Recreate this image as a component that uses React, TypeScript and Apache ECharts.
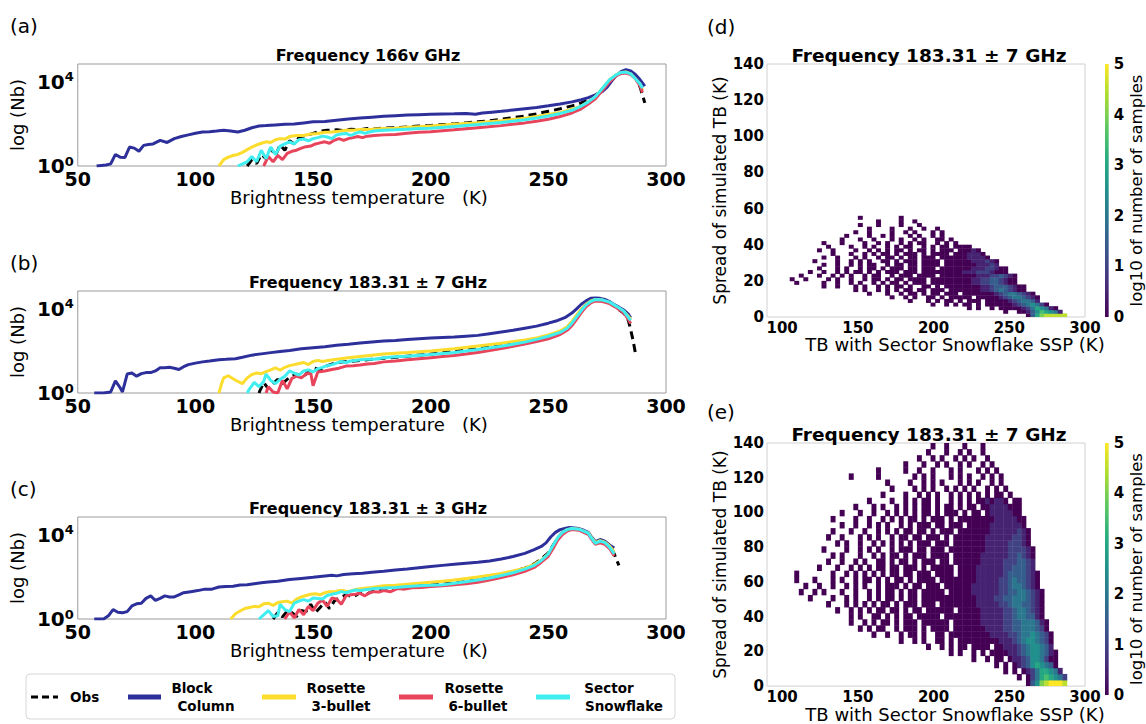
import React, { useEffect, useRef } from "react";
import * as echarts from "echarts";

const FONT = "'DejaVu Sans', 'Noto Sans', sans-serif";

// ---------- series names & colours ----------
const seriesNames = ["Obs", "Block Column", "Rosette 3-bullet", "Rosette 6-bullet", "Sector Snowflake"];
const seriesColors = ["#000000", "#2d2f9b", "#fcdc2c", "#e8455d", "#40eef0"];
const panelTitles = ["Frequency 166v GHz", "Frequency 183.31 \u00b1 7 GHz", "Frequency 183.31 \u00b1 3 GHz"];
const xTicksLeft = [50, 100, 150, 200, 250, 300];
const yTicksLog = [0, 4];

// ---------- panel (a): [TB (K), log10(Nb)] ----------
const aObs: [number, number][] = [[122,0],[124,0.3],[126,0.12],[128,0.55],[130,0.35],[132,0.85],[134,0.5],[136,1.0],[138,0.75],[140,1.2],[142,1.05],[144,1.35],[147,1.45],[150,1.55],[153,1.65],[156,1.7],[160,1.72],[163,1.68],[166,1.75],[170,1.72],[173,1.78],[176,1.76],[180,1.8],[185,1.82],[190,1.86],[195,1.9],[200,1.93],[205,1.97],[210,2.0],[215,2.05],[220,2.1],[225,2.15],[230,2.22],[235,2.3],[240,2.38],[245,2.48],[250,2.6],[255,2.72],[260,2.86],[264,3.0],[267,3.15],[270,3.35],[273,3.65],[276,4.05],[279,4.35],[281,4.45],[283,4.48],[285,4.4],[287,4.2],[289,3.75],[291,3.0]];
const aBlock: [number, number][] = [[58,0],[62,0.05],[64,0.1],[66,0.55],[68,0.42],[70,0.4],[72,0.9],[74,0.85],[76,0.7],[78,0.98],[80,1.02],[82,1.05],[85,1.22],[88,1.12],[91,1.3],[94,1.4],[97,1.48],[100,1.56],[103,1.62],[106,1.63],[109,1.66],[112,1.7],[115,1.66],[118,1.62],[121,1.7],[124,1.82],[127,1.9],[130,1.92],[134,1.95],[138,1.98],[142,2.0],[146,2.05],[150,2.1],[155,2.12],[160,2.18],[165,2.24],[170,2.28],[175,2.32],[180,2.36],[185,2.39],[190,2.42],[195,2.44],[200,2.46],[205,2.47],[210,2.48],[215,2.5],[219,2.46],[222,2.52],[226,2.56],[230,2.6],[235,2.66],[240,2.72],[245,2.78],[250,2.86],[255,2.95],[260,3.05],[264,3.15],[267,3.25],[270,3.38],[273,3.55],[275,3.75],[277,4.05],[279,4.32],[281,4.5],[283,4.58],[285,4.52],[287,4.35],[289,4.1],[291,3.8]];
const aRos3: [number, number][] = [[110,0],[112,0.3],[114,0.42],[116,0.5],[118,0.55],[120,0.65],[122,0.78],[124,0.9],[126,1.0],[128,1.08],[130,1.15],[132,1.12],[134,1.25],[136,1.3],[138,1.28],[140,1.4],[143,1.45],[146,1.45],[149,1.52],[152,1.55],[155,1.6],[158,1.62],[161,1.65],[164,1.7],[167,1.7],[170,1.73],[175,1.75],[180,1.78],[185,1.8],[190,1.84],[195,1.87],[200,1.9],[210,1.98],[220,2.06],[230,2.15],[240,2.27],[245,2.35],[250,2.45],[255,2.55],[260,2.7],[264,2.85],[267,3.05],[270,3.3],[273,3.7],[276,4.1],[279,4.35],[281,4.45],[283,4.47],[285,4.38],[287,4.15],[289,3.9],[290,3.6]];
const aRos6: [number, number][] = [[129,0],[131,0.45],[133,0.2],[135,0.5],[137,0.3],[139,0.6],[141,0.7],[143,0.75],[145,0.85],[147,0.92],[149,0.95],[151,1.05],[153,1.1],[155,1.15],[157,1.08],[159,1.22],[161,1.3],[163,1.22],[165,1.3],[167,1.35],[169,1.4],[171,1.35],[173,1.42],[176,1.45],[180,1.48],[185,1.5],[190,1.56],[195,1.6],[200,1.63],[210,1.72],[220,1.82],[230,1.92],[240,2.05],[245,2.13],[250,2.22],[255,2.35],[260,2.52],[264,2.72],[267,2.95],[270,3.2],[273,3.6],[276,4.0],[279,4.3],[281,4.4],[283,4.42],[285,4.35],[287,4.15],[289,3.8],[290,3.5]];
const aSector: [number, number][] = [[118,0],[120,0.1],[122,0.2],[124,0.45],[126,0.2],[128,0.75],[130,0.35],[132,0.9],[134,0.55],[136,0.95],[138,1.05],[140,1.15],[142,1.05],[144,1.25],[146,1.28],[148,1.2],[150,1.3],[152,1.35],[154,1.42],[156,1.38],[158,1.3],[160,1.48],[162,1.52],[164,1.55],[166,1.45],[168,1.55],[170,1.62],[172,1.55],[174,1.62],[176,1.66],[180,1.7],[185,1.72],[190,1.75],[195,1.78],[200,1.8],[210,1.88],[220,1.97],[230,2.07],[240,2.2],[245,2.28],[250,2.38],[255,2.5],[260,2.65],[264,2.85],[267,3.05],[270,3.3],[273,3.7],[276,4.1],[279,4.35],[281,4.45],[283,4.46],[285,4.38],[287,4.15],[289,3.9],[290,3.7]];

// ---------- panel (b) ----------
const bObs: [number, number][] = [[127,0],[129,0.5],[131,0.2],[133,0.45],[135,0.65],[137,0.45],[140,0.75],[143,0.9],[146,0.8],[148,1.0],[150,1.2],[153,1.1],[156,1.3],[160,1.45],[165,1.5],[170,1.55],[175,1.6],[180,1.65],[190,1.75],[200,1.85],[210,1.98],[220,2.12],[230,2.27],[240,2.45],[245,2.58],[250,2.72],[255,2.9],[258,3.1],[260,3.35],[262,3.65],[264,3.95],[266,4.2],[268,4.38],[270,4.45],[273,4.42],[276,4.3],[279,4.05],[282,3.8],[284,3.45],[285,3.0],[286,2.5],[287,1.9]];
const bBlock: [number, number][] = [[57,0],[61,0],[64,0.05],[66,0.58],[68,0.25],[69,0.05],[71,0.9],[73,0.95],[75,0.8],[77,0.92],[79,0.97],[81,0.97],[83,1.05],[85,1.2],[87,1.2],[89,1.22],[91,1.18],[93,1.12],[95,1.25],[97,1.35],[100,1.42],[103,1.48],[106,1.52],[110,1.58],[113,1.6],[117,1.63],[120,1.7],[124,1.8],[128,1.86],[132,1.92],[136,1.97],[140,2.02],[145,2.1],[150,2.15],[155,2.2],[160,2.27],[165,2.32],[170,2.38],[175,2.43],[180,2.47],[185,2.5],[190,2.54],[195,2.58],[200,2.61],[205,2.64],[210,2.66],[215,2.7],[220,2.74],[225,2.82],[230,2.9],[235,2.98],[240,3.08],[245,3.18],[250,3.32],[254,3.45],[257,3.58],[260,3.8],[262,4.0],[264,4.22],[266,4.38],[268,4.5],[270,4.52],[272,4.5],[274,4.45],[276,4.35],[278,4.2],[280,4.08],[282,3.95],[284,3.75],[285,3.58]];
const bRos3: [number, number][] = [[110,0],[111,0.4],[112,0.72],[114,0.82],[116,0.68],[118,0.55],[120,0.45],[122,0.72],[124,0.88],[126,0.95],[128,0.92],[130,1.02],[132,1.1],[134,1.2],[136,1.08],[138,1.22],[140,1.3],[142,1.35],[144,1.4],[146,1.45],[148,1.35],[150,1.5],[152,1.55],[154,1.5],[157,1.56],[160,1.6],[165,1.68],[170,1.74],[175,1.8],[180,1.85],[190,1.92],[200,2.0],[210,2.1],[220,2.23],[230,2.37],[240,2.52],[245,2.62],[250,2.76],[255,2.95],[258,3.15],[260,3.4],[262,3.7],[264,3.98],[266,4.22],[268,4.38],[270,4.45],[273,4.42],[276,4.3],[279,4.1],[282,3.88],[284,3.65],[285,3.5]];
const bRos6: [number, number][] = [[130,0],[131,0.3],[133,0.05],[135,0],[137,0.6],[139,0.2],[141,0.7],[143,0.8],[145,0.72],[147,0.9],[149,0.95],[150,0.35],[152,1.0],[155,1.05],[158,1.12],[161,1.18],[164,1.28],[167,1.3],[170,1.33],[173,1.38],[176,1.4],[180,1.48],[185,1.52],[190,1.58],[195,1.63],[200,1.68],[205,1.73],[210,1.78],[215,1.85],[220,1.93],[225,2.02],[230,2.12],[235,2.22],[240,2.33],[245,2.45],[250,2.58],[255,2.78],[258,2.98],[260,3.2],[262,3.5],[264,3.82],[266,4.1],[268,4.28],[270,4.38],[273,4.35],[276,4.25],[279,4.05],[282,3.82],[284,3.5],[285,3.3]];
const bSector: [number, number][] = [[122,0],[123,0.2],[125,0.5],[127,0.3],[129,0.55],[130,0.9],[132,0.6],[134,0.45],[136,0.65],[138,0.8],[140,1.05],[142,0.95],[144,0.85],[146,1.05],[148,1.1],[150,1.0],[152,1.15],[154,1.22],[156,1.3],[158,1.35],[160,1.42],[162,1.5],[164,1.45],[166,1.52],[168,1.55],[170,1.58],[173,1.6],[176,1.6],[180,1.68],[185,1.72],[190,1.75],[200,1.83],[210,1.93],[220,2.07],[230,2.22],[240,2.42],[245,2.55],[250,2.7],[255,2.88],[258,3.08],[260,3.32],[262,3.62],[264,3.92],[266,4.18],[268,4.35],[270,4.45],[273,4.42],[276,4.32],[279,4.12],[282,3.9],[284,3.6],[285,3.45]];

// ---------- panel (c) ----------
const cObs: [number, number][] = [[133,0],[135,0.3],[137,0.1],[139,0.38],[141,0.3],[143,0.12],[145,0.4],[147,0.35],[149,0.7],[151,0.3],[153,0.55],[155,0.8],[157,0.5],[159,0.85],[161,1.0],[164,1.15],[167,1.05],[170,1.25],[173,1.2],[176,1.35],[180,1.4],[185,1.45],[190,1.55],[195,1.58],[200,1.62],[205,1.66],[210,1.72],[215,1.78],[220,1.86],[225,1.97],[230,2.1],[235,2.25],[240,2.42],[244,2.62],[247,2.85],[250,3.15],[252,3.5],[254,3.85],[256,4.1],[258,4.22],[260,4.28],[263,4.25],[265,4.15],[267,4.05],[268,3.9],[270,3.6],[272,3.7],[274,3.62],[276,3.45],[278,3.1],[279,2.8],[280,2.55]];
const cBlock: [number, number][] = [[57,0],[61,0],[63,0.15],[65,0.45],[67,0.32],[69,0.3],[71,0.35],[73,0.62],[75,0.72],[77,0.75],[79,0.98],[81,1.1],[83,0.88],[85,0.98],[87,1.1],[89,1.05],[91,1.05],[93,1.15],[95,1.25],[98,1.3],[101,1.35],[104,1.42],[107,1.42],[110,1.52],[113,1.55],[116,1.56],[119,1.62],[122,1.63],[125,1.68],[128,1.72],[131,1.76],[135,1.8],[140,1.88],[145,1.93],[150,1.98],[155,2.05],[158,2.08],[160,2.05],[163,2.12],[167,2.15],[171,2.18],[175,2.22],[180,2.27],[185,2.33],[190,2.38],[195,2.44],[200,2.5],[205,2.55],[210,2.6],[215,2.65],[220,2.7],[225,2.76],[230,2.85],[235,2.97],[240,3.12],[244,3.3],[247,3.45],[249,3.62],[251,3.9],[253,4.12],[255,4.25],[257,4.3],[259,4.35],[261,4.33],[263,4.3],[265,4.22],[267,4.12],[268,3.95],[270,3.68],[272,3.78],[274,3.7],[276,3.52],[278,3.38]];
const cRos3: [number, number][] = [[115,0],[117,0.25],[119,0.38],[121,0.5],[123,0.55],[125,0.6],[127,0.58],[129,0.72],[131,0.75],[133,0.65],[135,0.78],[137,0.82],[139,0.85],[141,0.75],[143,0.95],[145,1.05],[147,1.12],[149,1.18],[151,1.2],[153,1.15],[155,1.25],[157,1.3],[159,1.3],[161,1.35],[163,1.35],[165,1.3],[168,1.4],[171,1.45],[175,1.5],[180,1.58],[185,1.6],[190,1.65],[195,1.7],[200,1.75],[205,1.8],[210,1.85],[215,1.93],[220,2.0],[225,2.08],[230,2.17],[235,2.28],[240,2.42],[244,2.6],[247,2.8],[250,3.1],[252,3.45],[254,3.85],[256,4.1],[258,4.25],[260,4.3],[263,4.27],[265,4.18],[267,4.08],[268,3.92],[270,3.63],[272,3.72],[274,3.65],[276,3.47],[278,3.2]];
const cRos6: [number, number][] = [[138,0],[140,0.35],[142,0.05],[144,0.45],[146,0.2],[148,0.6],[150,0.4],[152,0.75],[154,0.9],[156,0.6],[158,1.0],[160,0.95],[162,0.7],[164,1.1],[166,1.15],[168,1.18],[170,1.22],[172,1.1],[174,1.25],[176,1.3],[178,1.28],[180,1.35],[183,1.3],[186,1.45],[189,1.42],[192,1.48],[196,1.5],[200,1.55],[205,1.58],[210,1.63],[215,1.68],[220,1.75],[225,1.85],[230,1.97],[235,2.1],[240,2.27],[244,2.45],[247,2.7],[250,2.98],[252,3.35],[254,3.75],[256,4.02],[258,4.18],[260,4.25],[263,4.22],[265,4.12],[267,4.02],[268,3.85],[270,3.55],[272,3.62],[274,3.55],[276,3.35],[278,3.0]];
const cSector: [number, number][] = [[127,0],[129,0.2],[131,0.4],[133,0.12],[135,0.15],[136,0.7],[138,0.45],[140,0.35],[142,0.75],[144,0.85],[146,0.92],[148,0.85],[150,1.0],[152,0.98],[154,0.95],[156,1.12],[158,1.18],[160,1.22],[162,1.3],[164,1.25],[166,1.32],[168,1.38],[170,1.35],[173,1.4],[176,1.45],[180,1.47],[185,1.5],[190,1.55],[195,1.58],[200,1.6],[205,1.63],[210,1.7],[215,1.77],[220,1.85],[225,1.95],[230,2.07],[235,2.2],[240,2.37],[244,2.55],[247,2.78],[250,3.1],[252,3.5],[254,3.88],[256,4.12],[258,4.25],[260,4.3],[263,4.27],[265,4.18],[267,4.08],[268,3.9],[270,3.6],[272,3.7],[274,3.63],[276,3.42],[278,3.1]];

const panelData = [
  [aObs, aBlock, aRos3, aRos6, aSector],
  [bObs, bBlock, bRos3, bRos6, bSector],
  [cObs, cBlock, cRos3, cRos6, cSector],
];

// ---------- 2-D histograms (log10 of number of samples) ----------
// each row: [row index, first column, cells]; '.' = empty, hex digit h = value h*0.5
const heatX0 = 90;
const heatDX = 3;
const heatDDY = 2;   // panel (d) row height (K)
const heatEDY = 3.5; // panel (e) row height (K)
const histD: [number, number, string][] = [
  [0, 57, "036899999"],
  [1, 52, "0..0013576541"],
  [2, 44, "0.0..0.0000012465410"],
  [3, 36, "0..0.0.00.0.00000012345420"],
  [4, 31, "0...0.0.00.0.000.000001234431"],
  [5, 27, "0..0.0..00.0.00000.00000123443210"],
  [6, 22, "0...0..0.00.0.00.000.0000000123443210"],
  [7, 19, "0.0..0.0.0.00.00.000.00000001123432100"],
  [8, 12, "0..0...0.0..0.0.00.0..00.0.000000001123332100"],
  [9, 6, "0.....0..0..0.0..0.0.00.0.000.0000000001122332100"],
  [10, 5, "0..0....0.0..0..0.00.0.00.0000.0000000001122332100"],
  [11, 7, "0...0..0.0.0..0.00..0.000.0000.00000000111223210"],
  [12, 9, "0..0..0.0.00.0.0.000.000.0000000001112221000"],
  [13, 11, "0...0.0..0.00.0.000.00.000.000000011122100"],
  [14, 12, "0..0..0.0.00..0.00.00.0000.000000011121"],
  [15, 10, "0....0..0.0.0..00.0.000.0000.000000111210"],
  [16, 12, "0..0...0.0..0.00.0.00.000.00000011110"],
  [17, 14, "0...0..0.0.00.0.000.0.0000.0001110"],
  [18, 11, "0..0....0..0.0.0.00.0.00.0.000.00010"],
  [19, 13, "0....0..0.0..0.0.00..0.0.00.0000"],
  [20, 12, "0...0....0..0.0..0.0.00..0.0.0"],
  [21, 16, "0...0..0...0.0..0.0..00.0"],
  [22, 17, "0....0..0.0...0.0..0.0"],
  [23, 19, "0..0....0..0.0...0.0"],
  [24, 22, "0....0...0..0..0"],
  [25, 20, "0...0....0...0"],
  [26, 22, "..0....0..0"],
  [27, 20, "0........0"],
];
const histE: [number, number, string][] = [
  [0, 57, "03589AAA9"],
  [1, 55, "0.024676542"],
  [2, 52, "0.0.012466541"],
  [3, 49, ".0.0.0123565430"],
  [4, 45, "0..0.00.01123554200"],
  [5, 40, "0.0..0.0.000011234554310"],
  [6, 35, "0..0.0.00.0000.0011123455431"],
  [7, 29, "0..0.0..00.0.000000000111234554320"],
  [8, 23, "0..0..0.00.0..00.00000000011112234454320"],
  [9, 20, "0.0.00..0.000.0.0000.000000011112233444320"],
  [10, 18, "0..0.0.00.0.000.000000.000000111112233444310"],
  [11, 17, ".0.0..00.0.0.00.00000.0000000011111223443310"],
  [12, 15, "0..0.0.0.00.00.0.00.000000.0000011111223443210"],
  [13, 13, "0...0.0.0.0.00.0.000.000.00000000111112234433210"],
  [14, 9, "0....0..0.0..0.0.00.0.00.000000000000111122334443210"],
  [15, 7, "0..0.0...0..0..0.0.00.0.00.00000.000001111112233443210"],
  [16, 7, ".0..0..0..0.0.0..0.000.0.00.000.000000111111223443210"],
  [17, 6, "0...0...0.0..0.00.0.0.00.0.0000.0000000011111223433210"],
  [18, 6, "0.......0..0.0.0.0.0.00.00.000.0000.000011111123333210"],
  [19, 11, "0...0..0.0.0.00.00.000.0.00000.00001111112233321"],
  [20, 13, "0..0..0.0..00.0.00.0.000.00.000000111112223321"],
  [21, 14, "0.0...0..0.0.00.0.000.0000.000000111111223210"],
  [22, 12, "0....0..0.0.0..0.000.00.000.0000000011111222210"],
  [23, 15, "0.0..0..0.0.0.0.0.000.000.00000001111122210"],
  [24, 13, "0..0...0.0.0..0.00.00.000.0.00000001111112210"],
  [25, 13, ".0...0..0..0.0.0.00.00.0.000.0000000111111210"],
  [26, 16, "0..0..0.0.0..0.0.000.00.000.0000011111110"],
  [27, 14, "0....0..0..0.0.0.00.0.000.0.000000001111100"],
  [28, 16, "0...0..0..0.0.0.0.00.0.000.0.00.01111100"],
  [29, 19, "0...0.0..0.0.0.00.0.00.0.00.001111000"],
  [30, 22, "0....0..0.0.00.0..0.0.0.0010110.00"],
  [31, 25, "0....0..0.0.0..0.0.0.0.0.00.0"],
  [32, 27, "0....0.0.0..0.0.0.0..0.0.0"],
  [33, 26, "0....0..0.0.0...0.0.0..0.0"],
  [34, 18, "0.....0.......0.0.0...0.0.0..0.0.0"],
  [35, 24, "0.....0..0..0...0.0...0.0.0"],
  [36, 30, "0...0..0.0..0.0..0.0"],
  [37, 33, "0..0.0..0.0.0..0."],
  [38, 35, "0...0..0.0..0"],
  [39, 36, "0..0...0...0"],
];
const heatXTicks = [100, 150, 200, 250, 300];
const viridis = ["#440154", "#472c7a", "#3b518b", "#2c718e", "#21908d", "#27ad81", "#5cc863", "#aadc32", "#fde725"];

function parseHist(rows: [number, number, string][], dy: number): number[][] {
  const out: number[][] = [];
  for (const [r, c0, pat] of rows) {
    for (let i = 0; i < pat.length; i++) {
      const ch = pat[i];
      if (ch === ".") continue;
      out.push([heatX0 + (c0 + i) * heatDX, r * dy, parseInt(ch, 16) * 0.5]);
    }
  }
  return out;
}

function buildOption(): any {
  const leftTops = [64, 291, 517];
  const grids: any[] = [];
  const xAxes: any[] = [];
  const yAxes: any[] = [];
  const series: any[] = [];
  const graphics: any[] = [];

  const txt = (x: number, y: number, text: string, size: number, bold: boolean, align = "center", extra: any = {}) => ({
    type: "text",
    x,
    y,
    silent: true,
    style: {
      text,
      fontSize: size,
      fontWeight: bold ? "bold" : "normal",
      fontFamily: FONT,
      fill: "#000",
      align,
      verticalAlign: "middle",
      ...extra,
    },
  });

  // ----- left line panels -----
  leftTops.forEach((top, i) => {
    grids.push({ left: 66, top, width: 600, height: 102, show: true, borderColor: "#9a9a9a", borderWidth: 1 });
    xAxes.push({
      gridIndex: i,
      type: "value",
      min: 50,
      max: 300,
      interval: 50,
      axisLine: { show: false },
      axisTick: { show: false },
      splitLine: { show: false },
      axisLabel: { customValues: xTicksLeft, fontSize: 19, fontWeight: "bold", color: "#000", fontFamily: FONT, margin: 3 },
      name: "Brightness temperature   (K)",
      nameLocation: "middle",
      nameGap: 22,
      nameTextStyle: { fontSize: 18, color: "#000", fontFamily: FONT, padding: [0, 26, 0, 0] },
    });
    yAxes.push({
      gridIndex: i,
      type: "value",
      min: 0,
      max: 4.85,
      axisLine: { show: false },
      axisTick: { show: false },
      splitLine: { show: false },
      axisLabel: {
        customValues: yTicksLog,
        margin: 4,
        formatter: (v: number) => `{b|10}{s|${Math.round(v)}}`,
        rich: {
          b: { fontSize: 20, fontWeight: "bold", color: "#000", fontFamily: FONT },
          s: { fontSize: 13, fontWeight: "bold", color: "#000", fontFamily: FONT, verticalAlign: "top", padding: [0, 0, 10, 0] },
        },
      },
      name: "log (Nb)",
      nameLocation: "middle",
      nameGap: 38,
      nameTextStyle: { fontSize: 18, color: "#000", fontFamily: FONT },
    });
    panelData[i].forEach((d, k) => {
      series.push({
        name: seriesNames[k],
        type: "line",
        xAxisIndex: i,
        yAxisIndex: i,
        data: d,
        symbol: "none",
        clip: true,
        silent: true,
        lineStyle: { width: 3, color: seriesColors[k], type: k === 0 ? [8, 5] : "solid" },
        z: 2 + k,
      });
    });
    graphics.push(txt(368, top - 9, panelTitles[i], 16, true));
  });
  graphics.push(txt(10, 26, "(a)", 20, false, "left"));
  graphics.push(txt(10, 263, "(b)", 20, false, "left"));
  graphics.push(txt(10, 489, "(c)", 20, false, "left"));

  // ----- right heatmap panels -----
  const rightTops = [64, 443];
  const rightH = [253, 252];
  const histRows = [histD, histE];
  const dys = [heatDDY, heatEDY];
  rightTops.forEach((top, j) => {
    const gi = 3 + j;
    grids.push({ left: 767, top, width: 318, height: rightH[j], show: true, borderColor: "#d0d0d0", borderWidth: 1 });
    xAxes.push({
      gridIndex: gi,
      type: "value",
      min: 90,
      max: 300,
      axisLine: { show: false },
      axisTick: { show: false },
      splitLine: { show: false },
      axisLabel: { customValues: heatXTicks, fontSize: 15, fontWeight: "bold", color: "#000", fontFamily: FONT, margin: 3 },
      name: "TB with Sector Snowflake SSP (K)",
      nameLocation: "middle",
      nameGap: 13,
      nameTextStyle: { fontSize: 18, color: "#000", fontFamily: FONT, padding: [0, 0, 0, 58] },
    });
    yAxes.push({
      gridIndex: gi,
      type: "value",
      min: 0,
      max: 140,
      interval: 20,
      axisLine: { show: false },
      axisTick: { show: false },
      splitLine: { show: false },
      axisLabel: { fontSize: 15, fontWeight: "bold", color: "#000", fontFamily: FONT, margin: 3 },
      name: "Spread of simulated TB (K)",
      nameLocation: "middle",
      nameGap: 35,
      nameTextStyle: { fontSize: 17, color: "#000", fontFamily: FONT },
    });
    const dy = dys[j];
    series.push({
      type: "custom",
      name: j === 0 ? "hist (d)" : "hist (e)",
      xAxisIndex: gi,
      yAxisIndex: gi,
      clip: true,
      silent: true,
      encode: { x: 0, y: 1 },
      data: parseHist(histRows[j], dy),
      renderItem: (params: any, api: any) => {
        const x = api.value(0);
        const y = api.value(1);
        const p = api.coord([x, y + dy]);
        const s = api.size([heatDX, dy]);
        return {
          type: "rect",
          shape: { x: p[0], y: p[1], width: s[0] + 0.4, height: s[1] + 0.4 },
          style: { fill: api.visual("color") },
        };
      },
    });
    graphics.push(txt(929, top - 9, "Frequency 183.31 \u00b1 7 GHz", 18.5, true));
  });
  graphics.push(txt(707, 27, "(d)", 20, false, "left"));
  graphics.push(txt(707, 412, "(e)", 20, false, "left"));

  // ----- colour bars -----
  rightTops.forEach((top, j) => {
    const gi = 5 + j;
    grids.push({ left: 1105, top, width: 13, height: rightH[j], show: false });
    xAxes.push({ gridIndex: gi, type: "value", min: 0, max: 1, show: false });
    yAxes.push({
      gridIndex: gi,
      type: "value",
      min: 0,
      max: 5,
      interval: 1,
      position: "right",
      axisLine: { show: false },
      axisTick: { show: false },
      splitLine: { show: false },
      axisLabel: { fontSize: 15, fontWeight: "bold", color: "#000", fontFamily: FONT, margin: 5 },
      name: "log10 of number of samples",
      nameLocation: "middle",
      nameRotate: 90,
      nameGap: 14,
      nameTextStyle: { fontSize: 16.5, color: "#000", fontFamily: FONT },
    });
    series.push({
      type: "custom",
      name: "colorbar",
      xAxisIndex: gi,
      yAxisIndex: gi,
      silent: true,
      data: [[0, 0]],
      renderItem: (params: any) => {
        const cs = params.coordSys;
        return {
          type: "rect",
          shape: { x: cs.x, y: cs.y, width: cs.width, height: cs.height },
          style: {
            fill: new echarts.graphic.LinearGradient(0, 1, 0, 0, viridis.map((c, i) => ({ offset: i / (viridis.length - 1), color: c }))),
          },
        };
      },
    });
  });

  // ----- legend box -----
  graphics.push({
    type: "rect",
    silent: true,
    shape: { x: 26, y: 674, width: 649, height: 45, r: 4 },
    style: { fill: "#fff", stroke: "#d6d6d6", lineWidth: 1 },
    z: 0,
  });
  const legendItems = [
    { x1: 31, x2: 58, lines: ["Obs"], tx: [70], align: "left" },
    { x1: 128, x2: 161, lines: ["Block", "Column"], tx: [192, 206], align: "center" },
    { x1: 262, x2: 296, lines: ["Rosette", "3-bullet"], tx: [336, 341], align: "center" },
    { x1: 399, x2: 433, lines: ["Rosette", "6-bullet"], tx: [474, 478], align: "center" },
    { x1: 536, x2: 570, lines: ["Sector", "Snowflake"], tx: [609, 624], align: "center" },
  ];
  legendItems.forEach((it, k) => {
    graphics.push({
      type: "line",
      silent: true,
      shape: { x1: it.x1, y1: 697, x2: it.x2, y2: 697 },
      style: { stroke: seriesColors[k], lineWidth: k === 0 ? 3 : 5, lineDash: k === 0 ? [7, 4] : null },
      z: 1,
    });
    if (it.lines.length === 1) {
      graphics.push(txt(it.tx[0], 697, it.lines[0], 13.5, true, it.align));
    } else {
      graphics.push(txt(it.tx[0], 688, it.lines[0], 13.5, true, it.align));
      graphics.push(txt(it.tx[1], 706, it.lines[1], 13.5, true, it.align));
    }
  });

  return {
    animation: false,
    backgroundColor: "#fff",
    textStyle: { fontFamily: FONT },
    grid: grids,
    xAxis: xAxes,
    yAxis: yAxes,
    visualMap: [
      {
        type: "continuous",
        show: false,
        min: 0,
        max: 5,
        dimension: 2,
        seriesIndex: [15, 16],
        inRange: { color: viridis },
      },
    ],
    series,
    graphic: graphics,
  };
}

export default function App() {
  const ref = useRef<HTMLDivElement>(null);
  useEffect(() => {
    document.body.style.margin = "0";
    const chart = echarts.init(ref.current!, null, { renderer: "svg" });
    chart.setOption(buildOption());
    return () => chart.dispose();
  }, []);
  return <div ref={ref} style={{ width: 1146, height: 724 }} />;
}
